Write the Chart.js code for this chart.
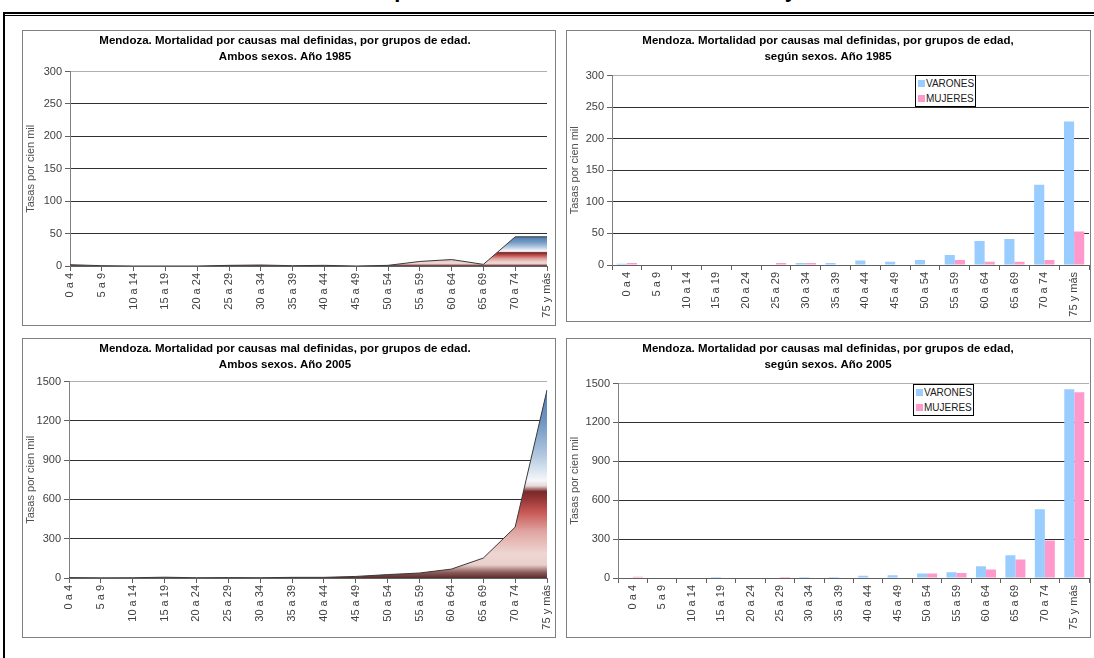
<!DOCTYPE html>
<html lang="es">
<head>
<meta charset="utf-8">
<title>Mendoza. Mortalidad por causas mal definidas</title>
<script src="https://cdn.jsdelivr.net/npm/chart.js@4.4.1/dist/chart.umd.min.js"></script>
<style>
    html, body {
        margin: 0;
        padding: 0;
        background: #ffffff;
        width: 1094px;
        height: 658px;
        overflow: hidden;
        font-family: "Liberation Sans", Arial, sans-serif;
    }
    #tituloGeneral {
        position: absolute;
        left: 277px;
        top: -21px;
        font-size: 22px;
        line-height: 22px;
        font-weight: bold;
        white-space: nowrap;
        color: #000;
    }
    .marco-top { position: absolute; left: 3px; width: 1091px; background: #000; }
    .marco-left { position: absolute; left: 3px; top: 12px; width: 2px; height: 646px; background: #000; }
    .panel {
        position: absolute;
        box-sizing: border-box;
        border: 1px solid #808080;
        background: #fff;
    }
    .panel canvas { display: block; }
    .leyenda {
        position: absolute;
        box-sizing: border-box;
        border: 1px solid #000;
        background: #fff;
        padding: 0 2px;
        font-size: 10px;
        color: #202020;
    }
    .leyenda div { height: 15px; line-height: 15px; white-space: nowrap; }
    .leyenda span.cuadro {
        display: inline-block;
        width: 7px;
        height: 7px;
        margin-right: 1px;
    }
</style>
</head>
<body>
<div id="tituloGeneral">Mortalidad por causas mal definidas. Años 1985 y 2005</div>
<div class="marco-top" style="top:12px;height:2px"></div>
<div class="marco-top" style="top:15px;height:1px"></div>
<div class="marco-left"></div>

<div class="panel" style="left:22px;top:30px;width:534px;height:296px">
    <canvas id="ambos1985" width="532" height="294"></canvas>
</div>
<div class="panel" style="left:566px;top:30px;width:525px;height:292px">
    <canvas id="sexos1985" width="523" height="290"></canvas>
</div>
<div class="panel" style="left:22px;top:338px;width:534px;height:300px">
    <canvas id="ambos2005" width="532" height="298"></canvas>
</div>
<div class="panel" style="left:566px;top:338px;width:525px;height:300px">
    <canvas id="sexos2005" width="523" height="298"></canvas>
</div>
<div class="leyenda" id="leyenda1985" style="left:915px;top:75px;width:61px;height:32px"></div>
<div class="leyenda" id="leyenda2005" style="left:913px;top:384px;width:61px;height:32px"></div>

<script>
"use strict";

// grupos de edad (eje x)
const edades = ["0 a 4", "5 a 9", "10 a 14", "15 a 19", "20 a 24", "25 a 29", "30 a 34", "35 a 39",
    "40 a 44", "45 a 49", "50 a 54", "55 a 59", "60 a 64", "65 a 69", "70 a 74", "75 y más"];

// tasas por cien mil
const ambos1985 = [2, 0.5, 0, 0, 0, 1, 1.5, 0.5, 1, 0, 1, 7, 10, 2.5, 45, 45];
const varones1985 = [2, 0, 0, 0, 0, 0, 3, 3, 7, 5, 8, 16, 38, 41, 127, 227];
const mujeres1985 = [3, 0, 0, 0, 0, 3, 3, 0, 0, 0, 0, 8, 5, 5, 8, 53];

const ambos2005 = [3, 1, 2, 6, 2, 3, 2, 5, 5, 12, 26, 38, 68, 152, 388, 1435];
const varones2005 = [0, 0, 0, 8, 0, 0, 8, 8, 18, 22, 34, 44, 90, 175, 530, 1455];
const mujeres2005 = [10, 0, 0, 0, 0, 8, 0, 0, 0, 0, 34, 39, 65, 142, 290, 1432];

// escalas del eje y
const maximo1985 = 300;
const paso1985 = 50;
const maximo2005 = 1500;
const paso2005 = 300;

const tituloLinea1Ambos = "Mendoza. Mortalidad por causas mal definidas, por grupos de edad.";
const tituloLinea1Sexos = "Mendoza. Mortalidad por causas mal definidas, por grupos de edad,";
const tituloEjeY = "Tasas por cien mil";

document.addEventListener("DOMContentLoaded", () => {
    Chart.defaults.font.family = '"Liberation Sans", Arial, sans-serif';
    Chart.defaults.font.size = 11;
    Chart.defaults.color = "#404040";

    // degradado tipo Excel: oscuro abajo, rojo, blanco, azul arriba
    const paradas = [
        [0.0, "#5a2c2c"],
        [0.03, "#8c5c5a"],
        [0.07, "#ead0cc"],
        [0.13, "#eed6d2"],
        [0.25, "#dfa3a0"],
        [0.35, "#c85855"],
        [0.43, "#8e3232"],
        [0.46, "#7a2a2a"],
        [0.49, "#e6d8d8"],
        [0.52, "#f5f7fa"],
        [0.65, "#b3c9e0"],
        [0.82, "#7399c4"],
        [1.0, "#4f7db3"],
    ];

    function degradado(context, valores) {
        const { ctx, chartArea, scales } = context.chart;
        if (!chartArea) return null;
        const base = scales.y.getPixelForValue(0);
        const tope = scales.y.getPixelForValue(Math.max(...valores));
        const g = ctx.createLinearGradient(0, base, 0, tope);
        paradas.forEach(([p, c]) => g.addColorStop(p, c));
        return g;
    }

    function escalas(caja, maximo, paso, esBarra) {
        return {
            x: {
                offset: esBarra,
                grid: {
                    offset: esBarra,
                    drawOnChartArea: false,
                    tickLength: 5,
                    tickColor: "#606060",
                },
                border: { color: "#606060" },
                ticks: {
                    autoSkip: false,
                    minRotation: 90,
                    maxRotation: 90,
                    padding: 2,
                    color: "#404040",
                },
                afterFit: (s) => {
                    s.height = caja.altoX;
                    s.paddingRight = 0;
                },
            },
            y: {
                min: 0,
                max: maximo,
                grid: {
                    color: (c) => (c.tick && c.tick.value === maximo ? "#b0b0b0" : "#303030"),
                    tickLength: 5,
                    tickColor: "#606060",
                },
                border: { color: "#808080" },
                ticks: {
                    stepSize: paso,
                    padding: 3,
                    color: "#404040",
                    callback: (v) => String(v),
                },
                title: {
                    display: true,
                    text: tituloEjeY,
                    color: "#505050",
                    font: { size: 11 },
                    padding: { top: 1, bottom: 0 },
                },
                afterFit: (s) => { s.width = caja.anchoY; },
            },
        };
    }

    function opcionesBase(caja, titulo, maximo, paso, esBarra) {
        return {
            responsive: false,
            animation: false,
            devicePixelRatio: 1,
            layout: { padding: { left: 0, right: caja.derecha, top: 0, bottom: 0 } },
            plugins: {
                legend: { display: false },
                tooltip: { enabled: false },
                title: {
                    display: true,
                    text: titulo,
                    color: "#000",
                    font: { size: 11.5, weight: "bold", lineHeight: 1.37 },
                    padding: { top: caja.tituloArriba, bottom: caja.tituloAbajo },
                },
            },
            scales: escalas(caja, maximo, paso, esBarra),
        };
    }

    function graficaArea(id, titulo, valores, maximo, paso, caja) {
        return new Chart(document.getElementById(id), {
            type: "line",
            data: {
                labels: edades,
                datasets: [{
                    label: "Ambos sexos",
                    data: valores,
                    fill: "origin",
                    tension: 0,
                    borderColor: "#3a3a3a",
                    borderWidth: 1,
                    pointRadius: 0,
                    backgroundColor: (c) => degradado(c, valores),
                }],
            },
            options: opcionesBase(caja, titulo, maximo, paso, false),
        });
    }

    function graficaBarras(id, titulo, varones, mujeres, maximo, paso, caja) {
        return new Chart(document.getElementById(id), {
            type: "bar",
            data: {
                labels: edades,
                datasets: [
                    { label: "VARONES", data: varones, backgroundColor: "#99ccff" },
                    { label: "MUJERES", data: mujeres, backgroundColor: "#ff99cc" },
                ],
            },
            options: Object.assign(opcionesBase(caja, titulo, maximo, paso, true), {
                datasets: { bar: { categoryPercentage: 0.68, barPercentage: 1 } },
            }),
        });
    }

    function leyendaHtml(chart, contenedor) {
        chart.data.datasets.forEach((ds) => {
            const fila = document.createElement("div");
            const cuadro = document.createElement("span");
            cuadro.className = "cuadro";
            cuadro.style.background = ds.backgroundColor;
            fila.appendChild(cuadro);
            fila.appendChild(document.createTextNode(ds.label));
            contenedor.appendChild(fila);
        });
    }

    graficaArea("ambos1985", [tituloLinea1Ambos, "Ambos sexos. Año 1985"], ambos1985, maximo1985, paso1985,
        { anchoY: 47, altoX: 59, derecha: 8, tituloArriba: 2, tituloAbajo: 7 });

    const barras1985 = graficaBarras("sexos1985", [tituloLinea1Sexos, "según sexos. Año 1985"],
        varones1985, mujeres1985, maximo1985, paso1985,
        { anchoY: 45, altoX: 56, derecha: 1, tituloArriba: 2, tituloAbajo: 11 });
    leyendaHtml(barras1985, document.getElementById("leyenda1985"));

    graficaArea("ambos2005", [tituloLinea1Ambos, "Ambos sexos. Año 2005"], ambos2005, maximo2005, paso2005,
        { anchoY: 46, altoX: 59, derecha: 8, tituloArriba: 2, tituloAbajo: 9 });

    const barras2005 = graficaBarras("sexos2005", [tituloLinea1Sexos, "según sexos. Año 2005"],
        varones2005, mujeres2005, maximo2005, paso2005,
        { anchoY: 51, altoX: 59, derecha: 1, tituloArriba: 2, tituloAbajo: 11 });
    leyendaHtml(barras2005, document.getElementById("leyenda2005"));
});
</script>
</body>
</html>
